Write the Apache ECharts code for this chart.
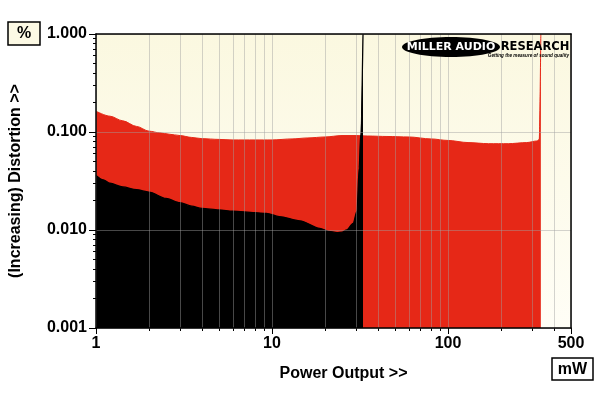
<!DOCTYPE html>
<html>
<head>
<meta charset="utf-8">
<script src="https://cdn.jsdelivr.net/npm/echarts@6/dist/echarts.min.js"></script>
<style>html,body{margin:0;padding:0;background:#fff;}#c{width:600px;height:393px;}</style>
</head>
<body>
<div id="c"></div>
<script>
// Power output (mW) and distortion (%) — red trace
const redPower = [1, 1.2, 1.42, 1.7, 2, 2.3, 2.6, 3, 3.5, 4, 5, 6, 8, 10, 13, 16, 20, 25, 30, 35, 45, 60, 80, 100, 130, 170, 220, 280, 320, 330, 337];
const redTHD   = [0.163, 0.145, 0.130, 0.114, 0.102, 0.098, 0.095, 0.092, 0.088, 0.0855, 0.084, 0.083, 0.083, 0.083, 0.085, 0.087, 0.089, 0.092, 0.092, 0.091, 0.090, 0.089, 0.085, 0.082, 0.078, 0.076, 0.076, 0.078, 0.081, 0.084, 1.0];
// black trace
const blackPower = [1, 1.1, 1.2, 1.42, 1.7, 2, 2.5, 3, 3.5, 4, 5, 6, 8, 9.3, 11, 14.4, 18.7, 21, 23.4, 25, 26.6, 28.9, 30.4, 31.3, 31.9, 32.9];
const blackTHD   = [0.036, 0.0325, 0.030, 0.0275, 0.0258, 0.0244, 0.021, 0.019, 0.0175, 0.0166, 0.016, 0.0156, 0.015, 0.0148, 0.0137, 0.0124, 0.0104, 0.0097, 0.0094, 0.0095, 0.0100, 0.0117, 0.0155, 0.043, 0.094, 1.0];
// axis ticks
const xMajor = [1, 10, 100, 500];
const xMinor = [2,3,4,5,6,7,8,9,20,30,40,50,60,70,80,90,200,300,400];
const yMajor = [0.001, 0.01, 0.1, 1];
const yMinor = [0.002,0.003,0.004,0.005,0.006,0.007,0.008,0.009,0.02,0.03,0.04,0.05,0.06,0.07,0.08,0.09,0.2,0.3,0.4,0.5,0.6,0.7,0.8,0.9];

const FONT = 'Liberation Sans, Arial, sans-serif';
const LOGOFONT = 'DejaVu Sans, sans-serif';
const GRIDC = 'rgba(160,160,160,0.45)';
const chart = echarts.init(document.getElementById('c'), null, {renderer: 'canvas'});
const zip = (a, b) => a.map((v, i) => [v, b[i]]);

chart.setOption({
  animation: false,
  grid: {left: 96, top: 34, width: 475, height: 294, show: true, borderWidth: 0,
    backgroundColor: new echarts.graphic.LinearGradient(0, 0, 0, 1, [{offset: 0, color: '#FBF8E0'}, {offset: 1, color: '#FFFEF6'}])},
  xAxis: [
    {type: 'log', min: 1, max: 500, z: 5, position: 'bottom',
     axisLine: {show: false}, axisTick: {show: true, customValues: xMinor, length: 3, lineStyle: {color: '#000'}},
     axisLabel: {show: false}, splitLine: {show: true, lineStyle: {color: GRIDC, width: 1}}},
    {type: 'log', min: 1, max: 500, z: 6, position: 'bottom',
     axisLine: {show: true, lineStyle: {color: '#000', width: 1.5}},
     axisTick: {show: true, customValues: xMajor, length: 6, lineStyle: {color: '#000'}},
     axisLabel: {show: true, customValues: xMajor, margin: 8, color: '#000', fontFamily: FONT, fontWeight: 'bold', fontSize: 16, formatter: v => String(Math.round(v))},
     splitLine: {show: true, lineStyle: {color: GRIDC, width: 1}},
     name: 'Power Output >>', nameLocation: 'middle', nameGap: 38,
     nameTextStyle: {color: '#000', fontFamily: FONT, fontWeight: 'bold', fontSize: 16, padding: [0, 0, 0, 20]}},
    {type: 'log', min: 1, max: 500, z: 6, position: 'top',
     axisLine: {show: true, lineStyle: {color: '#000', width: 1.5}}, axisTick: {show: false}, axisLabel: {show: false}, splitLine: {show: false}}
  ],
  yAxis: [
    {type: 'log', min: 0.001, max: 1, z: 5, position: 'left',
     axisLine: {show: false}, axisTick: {show: true, customValues: yMinor, length: 3, lineStyle: {color: '#000'}},
     axisLabel: {show: false}, splitLine: {show: false}},
    {type: 'log', min: 0.001, max: 1, z: 6, position: 'left',
     axisLine: {show: true, lineStyle: {color: '#000', width: 1.5}},
     axisTick: {show: true, customValues: yMajor, length: 7, lineStyle: {color: '#000'}},
     axisLabel: {show: true, customValues: yMajor, margin: 9, color: '#000', fontFamily: FONT, fontWeight: 'bold', fontSize: 16, formatter: v => v.toFixed(3)},
     splitLine: {show: true, lineStyle: {color: GRIDC, width: 1}},
     name: '(Increasing) Distortion >>', nameLocation: 'middle', nameGap: 72, nameRotate: 90,
     nameTextStyle: {color: '#000', fontFamily: FONT, fontWeight: 'bold', fontSize: 16}},
    {type: 'log', min: 0.001, max: 1, z: 6, position: 'right',
     axisLine: {show: true, lineStyle: {color: '#000', width: 1.5}}, axisTick: {show: false}, axisLabel: {show: false}, splitLine: {show: false}}
  ],
  series: [
    {type: 'line', xAxisIndex: 1, yAxisIndex: 1, data: zip(redPower, redTHD), symbol: 'none', z: 2,
     smooth: 0.3, smoothMonotone: 'x',
     lineStyle: {color: '#E62817', width: 1}, areaStyle: {color: '#E62817', opacity: 1, origin: 'start'}},
    {type: 'line', xAxisIndex: 1, yAxisIndex: 1, data: zip(blackPower, blackTHD), symbol: 'none', z: 3,
     smooth: 0.3, smoothMonotone: 'x',
     lineStyle: {color: '#000', width: 1.3}, areaStyle: {color: '#000', opacity: 1, origin: 'start'}}
  ],
  graphic: [
    {type: 'rect', shape: {x: 8, y: 22, width: 32, height: 23}, style: {fill: '#FCF9E4', stroke: '#000', lineWidth: 1.5}, z: 10},
    {type: 'text', x: 24, y: 34, style: {text: '%', fill: '#000', font: 'bold 16px ' + FONT, align: 'center', verticalAlign: 'middle'}, z: 11},
    {type: 'rect', shape: {x: 552, y: 358, width: 41, height: 22}, style: {fill: '#fff', stroke: '#000', lineWidth: 1.5}, z: 10},
    {type: 'text', x: 572.5, y: 369.5, style: {text: 'mW', fill: '#000', font: 'bold 16px ' + FONT, align: 'center', verticalAlign: 'middle'}, z: 11},
    {type: 'ellipse', shape: {cx: 451, cy: 47, rx: 49, ry: 10}, style: {fill: '#000'}, z: 10},
    {type: 'text', x: 451, y: 47.5, style: {text: 'MILLER AUDIO', fill: '#fff', font: 'bold 11px ' + LOGOFONT, align: 'center', verticalAlign: 'middle'}, z: 11},
    {type: 'text', x: 535, y: 47.5, style: {text: 'RESEARCH', fill: '#000', font: 'bold 11.5px ' + LOGOFONT, align: 'center', verticalAlign: 'middle'}, z: 11},
    {type: 'text', x: 569, y: 55.5, style: {text: 'Getting the measure of sound quality', fill: '#000', font: 'italic bold 4.6px ' + FONT, align: 'right', verticalAlign: 'middle'}, z: 11}
  ]
});
</script>
</body>
</html>
